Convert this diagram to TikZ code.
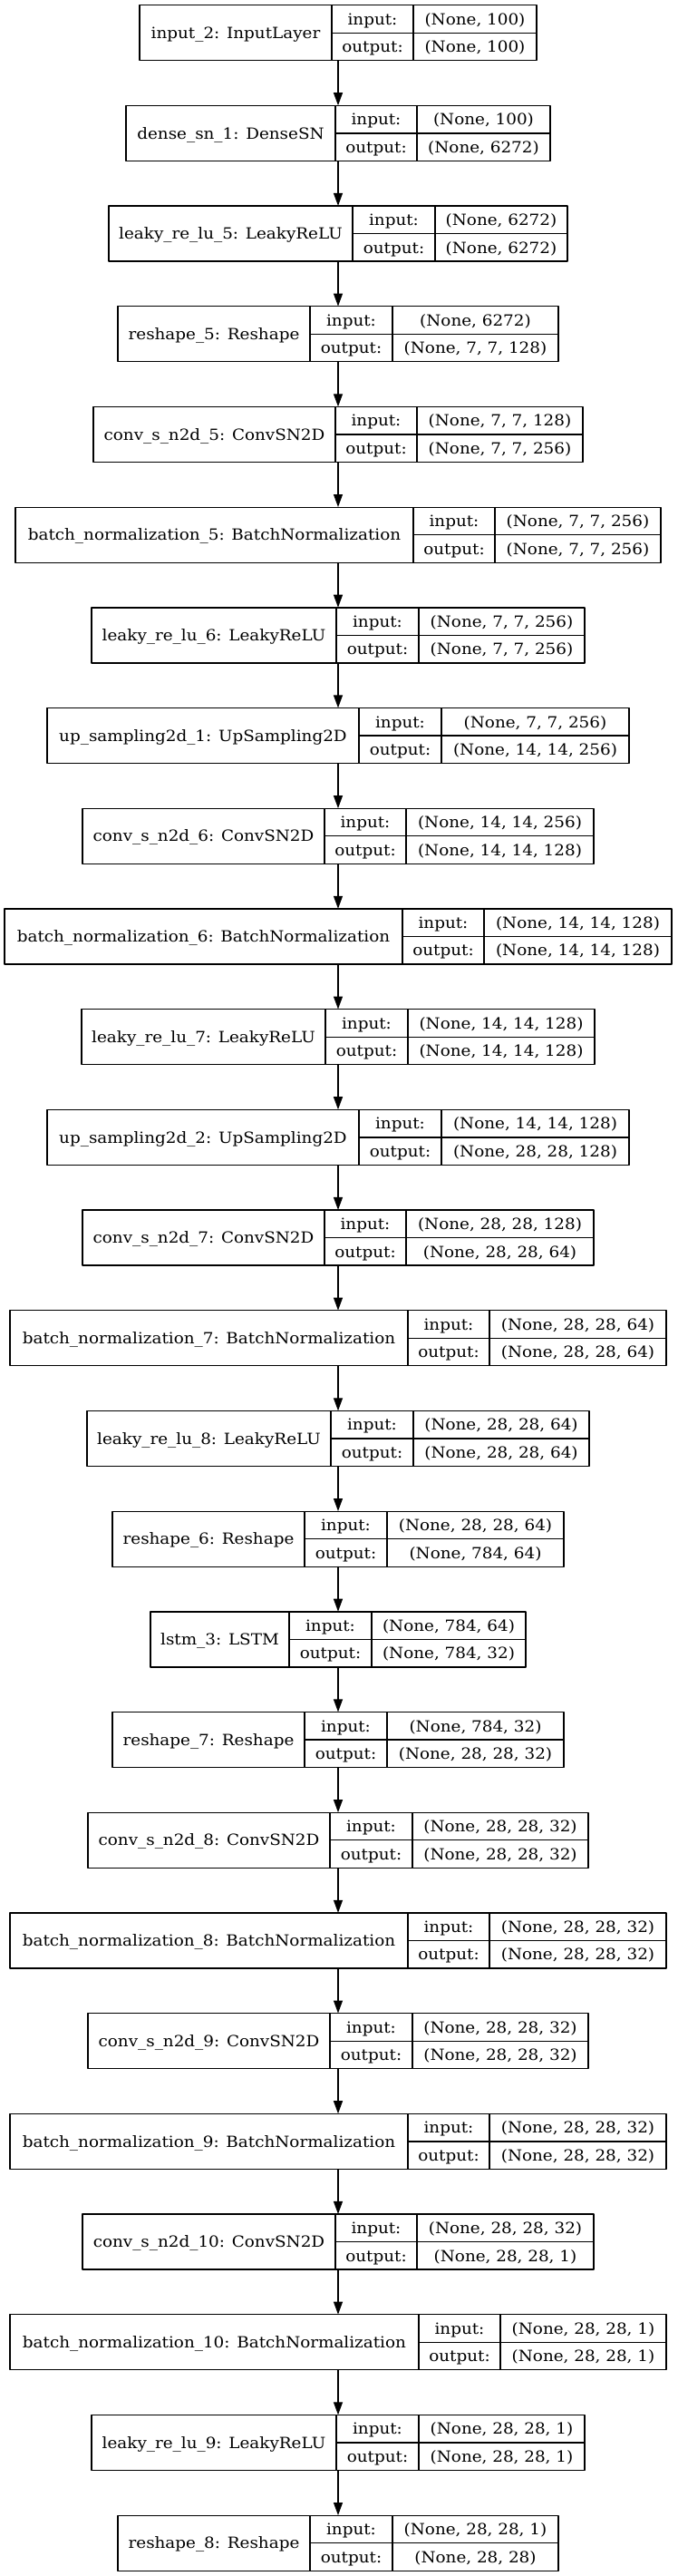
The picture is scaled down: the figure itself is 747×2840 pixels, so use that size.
\documentclass[tikz,border=0pt]{standalone}
\usepackage{fontspec}
\setmainfont{DejaVu Serif}[FakeStretch=1.08]
\usepackage{tikz}
\usetikzlibrary{arrows.meta}

\begin{document}
\begin{tikzpicture}[line cap=round,line join=round,>={Triangle[length=14pt,width=10pt]},x=1pt,y=-1pt,
    cell/.style={draw,line width=1.3pt,rectangle,inner sep=0pt,text height=12.3pt,text depth=0pt,font=\fontsize{17}{20}\selectfont},
    recbox/.style={rectangle,inner sep=0pt,minimum height=61pt}]
        \useasboundingbox (0,0) rectangle (747,2840);
        \foreach \n/\lab/\xl/\xa/\xb/\vin/\vout in {
            1/{input\_2: InputLayer}/154/366/456/{(None, 100)}/{(None, 100)},
            2/{dense\_sn\_1: DenseSN}/139/370/460/{(None, 100)}/{(None, 6272)},
            3/{leaky\_re\_lu\_5: LeakyReLU}/120/389/480/{(None, 6272)}/{(None, 6272)},
            4/{reshape\_5: Reshape}/130/342/433/{(None, 6272)}/{(None, 7, 7, 128)},
            5/{conv\_s\_n2d\_5: ConvSN2D}/103/370/460/{(None, 7, 7, 128)}/{(None, 7, 7, 256)},
            6/{batch\_normalization\_5: BatchNormalization}/17/456/546/{(None, 7, 7, 256)}/{(None, 7, 7, 256)},
            7/{leaky\_re\_lu\_6: LeakyReLU}/101/371/462/{(None, 7, 7, 256)}/{(None, 7, 7, 256)},
            8/{up\_sampling2d\_1: UpSampling2D}/52/396/487/{(None, 7, 7, 256)}/{(None, 14, 14, 256)},
            9/{conv\_s\_n2d\_6: ConvSN2D}/91/358/448/{(None, 14, 14, 256)}/{(None, 14, 14, 128)},
            10/{batch\_normalization\_6: BatchNormalization}/5/444/534/{(None, 14, 14, 128)}/{(None, 14, 14, 128)},
            11/{leaky\_re\_lu\_7: LeakyReLU}/90/359/450/{(None, 14, 14, 128)}/{(None, 14, 14, 128)},
            12/{up\_sampling2d\_2: UpSampling2D}/52/396/487/{(None, 14, 14, 128)}/{(None, 28, 28, 128)},
            13/{conv\_s\_n2d\_7: ConvSN2D}/91/358/448/{(None, 28, 28, 128)}/{(None, 28, 28, 64)},
            14/{batch\_normalization\_7: BatchNormalization}/11/450/540/{(None, 28, 28, 64)}/{(None, 28, 28, 64)},
            15/{leaky\_re\_lu\_8: LeakyReLU}/96/365/456/{(None, 28, 28, 64)}/{(None, 28, 28, 64)},
            16/{reshape\_6: Reshape}/124/336/427/{(None, 28, 28, 64)}/{(None, 784, 64)},
            17/{lstm\_3: LSTM}/166/319/410/{(None, 784, 64)}/{(None, 784, 32)},
            18/{reshape\_7: Reshape}/124/336/427/{(None, 784, 32)}/{(None, 28, 28, 32)},
            19/{conv\_s\_n2d\_8: ConvSN2D}/97/364/455/{(None, 28, 28, 32)}/{(None, 28, 28, 32)},
            20/{batch\_normalization\_8: BatchNormalization}/11/450/540/{(None, 28, 28, 32)}/{(None, 28, 28, 32)},
            21/{conv\_s\_n2d\_9: ConvSN2D}/97/364/455/{(None, 28, 28, 32)}/{(None, 28, 28, 32)},
            22/{batch\_normalization\_9: BatchNormalization}/11/450/540/{(None, 28, 28, 32)}/{(None, 28, 28, 32)},
            23/{conv\_s\_n2d\_10: ConvSN2D}/91/370/460/{(None, 28, 28, 32)}/{(None, 28, 28, 1)},
            24/{batch\_normalization\_10: BatchNormalization}/11/462/552/{(None, 28, 28, 1)}/{(None, 28, 28, 1)},
            25/{leaky\_re\_lu\_9: LeakyReLU}/101/371/462/{(None, 28, 28, 1)}/{(None, 28, 28, 1)},
            26/{reshape\_8: Reshape}/130/342/433/{(None, 28, 28, 1)}/{(None, 28, 28)}}
        {
            \pgfmathsetmacro\yc{36.2+110.7*(\n-1)}
            \pgfmathsetmacro\xr{746-\xl}
            \pgfmathsetmacro\wa{\xa-\xl}
            \pgfmathsetmacro\wb{\xb-\xa}
            \pgfmathsetmacro\wc{\xr-\xb}
            \node[recbox,minimum width={(\xr-\xl)*1pt}] (L\n) at (373,\yc) {};
            \node[cell,minimum width=\wa pt,minimum height=61pt] (L\n-name) at ({(\xl+\xa)/2},\yc) {\lab};
            \node[cell,minimum width=\wb pt,minimum height=30.5pt] (L\n-ik) at ({(\xa+\xb)/2},\yc-15.25) {input:};
            \node[cell,minimum width=\wb pt,minimum height=30.5pt] (L\n-ok) at ({(\xa+\xb)/2},\yc+15.25) {output:};
            \node[cell,minimum width=\wc pt,minimum height=30.5pt] (L\n-iv) at ({(\xb+\xr)/2},\yc-15.25) {\vin};
            \node[cell,minimum width=\wc pt,minimum height=30.5pt] (L\n-ov) at ({(\xb+\xr)/2},\yc+15.25) {\vout};
        }
        \foreach \n [count=\m from 2] in {1,...,25}
            \draw [->,line width=1.2pt] (L\n) -- (L\m);
\end{tikzpicture}
\end{document}
